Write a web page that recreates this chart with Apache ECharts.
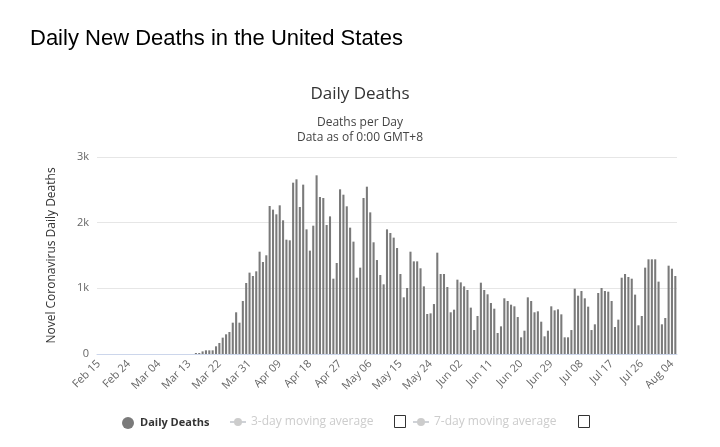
<!DOCTYPE html>
<html>
<head>
<meta charset="utf-8">
<script src="https://cdn.jsdelivr.net/npm/echarts@6/dist/echarts.min.js"></script>
<style>
html,body{margin:0;padding:0;background:#fff;}
#chart{width:720px;height:447px;}
</style>
</head>
<body>
<div id="chart"></div>
<script>
const categories = [
"Feb 15","Feb 16","Feb 17","Feb 18","Feb 19","Feb 20","Feb 21","Feb 22","Feb 23","Feb 24","Feb 25","Feb 26","Feb 27","Feb 28","Feb 29",
"Mar 01","Mar 02","Mar 03","Mar 04","Mar 05","Mar 06","Mar 07","Mar 08","Mar 09","Mar 10","Mar 11","Mar 12","Mar 13","Mar 14","Mar 15","Mar 16","Mar 17","Mar 18","Mar 19","Mar 20","Mar 21","Mar 22","Mar 23","Mar 24","Mar 25","Mar 26","Mar 27","Mar 28","Mar 29","Mar 30","Mar 31",
"Apr 01","Apr 02","Apr 03","Apr 04","Apr 05","Apr 06","Apr 07","Apr 08","Apr 09","Apr 10","Apr 11","Apr 12","Apr 13","Apr 14","Apr 15","Apr 16","Apr 17","Apr 18","Apr 19","Apr 20","Apr 21","Apr 22","Apr 23","Apr 24","Apr 25","Apr 26","Apr 27","Apr 28","Apr 29","Apr 30",
"May 01","May 02","May 03","May 04","May 05","May 06","May 07","May 08","May 09","May 10","May 11","May 12","May 13","May 14","May 15","May 16","May 17","May 18","May 19","May 20","May 21","May 22","May 23","May 24","May 25","May 26","May 27","May 28","May 29","May 30","May 31",
"Jun 01","Jun 02","Jun 03","Jun 04","Jun 05","Jun 06","Jun 07","Jun 08","Jun 09","Jun 10","Jun 11","Jun 12","Jun 13","Jun 14","Jun 15","Jun 16","Jun 17","Jun 18","Jun 19","Jun 20","Jun 21","Jun 22","Jun 23","Jun 24","Jun 25","Jun 26","Jun 27","Jun 28","Jun 29","Jun 30",
"Jul 01","Jul 02","Jul 03","Jul 04","Jul 05","Jul 06","Jul 07","Jul 08","Jul 09","Jul 10","Jul 11","Jul 12","Jul 13","Jul 14","Jul 15","Jul 16","Jul 17","Jul 18","Jul 19","Jul 20","Jul 21","Jul 22","Jul 23","Jul 24","Jul 25","Jul 26","Jul 27","Jul 28","Jul 29","Jul 30","Jul 31",
"Aug 01","Aug 02","Aug 03","Aug 04","Aug 05"
];

const dailyDeaths = [
0,0,0,0,0,0,0,0,0,0,0,0,0,0,0,
0,0,0,0,0,0,0,0,0,0,0,0,0,0,15,15,40,56,56,56,117,168,249,300,335,477,635,477,807,1081,1239,
1188,1259,1558,1401,1503,2254,2198,2127,2264,2036,1741,1731,2609,2660,2239,2579,1898,1574,1954,2721,2391,2376,1964,2096,1147,1386,2508,2426,2249,1924,
1711,1162,1315,2376,2548,2157,1701,1431,1203,1061,1898,1843,1772,1614,1218,863,1005,1558,1411,1411,1305,1030,609,619,761,1543,1218,1218,1020,635,675,
1132,1091,1030,975,706,365,579,1086,975,909,777,690,320,421,848,807,751,726,563,254,355,863,807,635,650,492,269,355,726,665,
680,604,254,254,365,995,888,959,848,721,365,452,929,1005,959,949,807,411,523,1162,1218,1173,1147,904,437,579,1315,1442,1442,1442,1102,
452,548,1345,1299,1188
];

const movingAvg3 = [];
const movingAvg7 = [];

const yTicks = [0, 1000, 2000, 3000];
const yTickLabels = ["0", "1k", "2k", "3k"];

const chart = echarts.init(document.getElementById('chart'), null, {renderer: 'canvas'});
const font = "'Open Sans', 'Noto Sans', sans-serif";

chart.setOption({
  animation: false,
  backgroundColor: '#ffffff',
  title: [
    {text: 'Daily New Deaths in the United States', left: 25, top: 23,
     textStyle: {fontFamily: "'Liberation Sans', Arial, sans-serif", fontSize: 22, fontWeight: 'normal', color: '#000'}},
    {text: 'Daily Deaths', left: 'center', top: 81,
     textStyle: {fontFamily: font, fontSize: 17, fontWeight: 'normal', color: '#333333'}},
    {text: 'Deaths per Day', left: 'center', top: 112,
     textStyle: {fontFamily: font, fontSize: 12, fontWeight: 'normal', color: '#444444'}},
    {text: 'Data as of 0:00 GMT+8', left: 'center', top: 127,
     textStyle: {fontFamily: font, fontSize: 12, fontWeight: 'normal', color: '#444444'}}
  ],
  grid: {left: 97, right: 43, top: 157, bottom: 93, containLabel: false},
  legend: [
    {left: 117, top: 412, itemWidth: 14, itemHeight: 12, itemGap: 4, icon: 'circle', data: ['Daily Deaths'], selectedMode: false,
     textStyle: {fontFamily: font, fontSize: 11, fontWeight: 'bold', color: '#333333'}},
    {left: 224, top: 411, itemWidth: 16, itemHeight: 10, data: ['3-day moving average'],
     selected: {'3-day moving average': false}, inactiveColor: '#cccccc',
     textStyle: {fontFamily: font, fontSize: 12, color: '#cccccc'}},
    {left: 407, top: 411, itemWidth: 16, itemHeight: 10, data: ['7-day moving average'],
     selected: {'7-day moving average': false}, inactiveColor: '#cccccc',
     textStyle: {fontFamily: font, fontSize: 12, color: '#cccccc'}}
  ],
  graphic: [
    {type: 'rect', shape: {x: 394.5, y: 415.5, width: 11, height: 12}, style: {fill: '#fff', stroke: '#333', lineWidth: 1}},
    {type: 'rect', shape: {x: 578.5, y: 415.5, width: 11, height: 12}, style: {fill: '#fff', stroke: '#333', lineWidth: 1}}
  ],
  xAxis: {
    type: 'category',
    data: categories,
    boundaryGap: true,
    axisLine: {lineStyle: {color: '#ccd6eb'}},
    axisTick: {show: false},
    axisLabel: {interval: 8, rotate: 45, fontFamily: font, fontSize: 11, color: '#666666', margin: 8}
  },
  yAxis: {
    type: 'value',
    min: 0, max: 3000, interval: 1000,
    name: 'Novel Coronavirus Daily Deaths',
    nameLocation: 'middle',
    nameGap: 39,
    nameRotate: 90,
    nameTextStyle: {fontFamily: font, fontSize: 12, color: '#333333'},
    axisLine: {show: false},
    axisTick: {show: false},
    splitLine: {lineStyle: {color: '#e6e6e6'}},
    axisLabel: {fontFamily: font, fontSize: 11, color: '#666666', margin: 8,
      formatter: function (v) { const i = yTicks.indexOf(v); return i >= 0 ? yTickLabels[i] : ''; }}
  },
  series: [
    {name: 'Daily Deaths', type: 'bar', data: dailyDeaths, barWidth: '62%',
     itemStyle: {color: '#7a7a7a', borderWidth: 0}},
    {name: '3-day moving average', type: 'line', data: movingAvg3, symbol: 'circle', symbolSize: 6,
     itemStyle: {color: '#cccccc'}, lineStyle: {color: '#cccccc'}},
    {name: '7-day moving average', type: 'line', data: movingAvg7, symbol: 'circle', symbolSize: 6,
     itemStyle: {color: '#cccccc'}, lineStyle: {color: '#cccccc'}}
  ]
});
</script>
</body>
</html>
